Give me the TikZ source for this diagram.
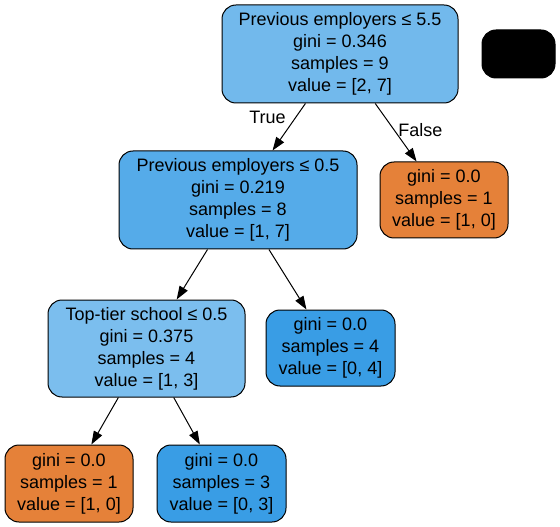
\documentclass[tikz,border=0pt]{standalone}
\usepackage{fontspec}
\setmainfont{Liberation Sans}
\usetikzlibrary{arrows.meta}
\definecolor{gvblue}{RGB}{57,157,229}
\definecolor{gvorange}{RGB}{229,129,57}
\definecolor{rootblue}{RGB}{114,185,236}
\definecolor{midblue}{RGB}{85,171,233}
\definecolor{lightblue}{RGB}{123,190,238}
\tikzset{>={Triangle[length=10pt,width=7pt]}}
\tikzset{
    treenode/.style 2 args={draw, line width=0.75pt, rounded corners=10.5pt, align=center,
        inner sep=0pt, minimum width=#1*0.75pt, minimum height=#2*0.75pt,
        font=\fontsize{13.5}{16.5}\selectfont},
    edgelbl/.style={font=\fontsize{13.5}{16.5}\selectfont, inner sep=3pt},
    branch/.style={->, line width=0.75pt}
}

\begin{document}
\begin{tikzpicture}[x=0.75pt, y=-0.75pt] % decision tree
	\useasboundingbox (0,0) rectangle (560,527);
	% nodes
	\node[treenode={236}{98}, fill=rootblue] (root) at (340,54)
		{Previous employers ≤ 5.5\\gini = 0.346\\samples = 9\\value = [2, 7]};
	\node[treenode={73}{48}, fill=black] (blank) at (518.5,54) {};
	\node[treenode={238}{98}, fill=midblue] (emp) at (238,200)
		{Previous employers ≤ 0.5\\gini = 0.219\\samples = 8\\value = [1, 7]};
	\node[treenode={128}{76}, fill=gvorange] (leafa) at (444,200)
		{gini = 0.0\\samples = 1\\value = [1, 0]};
	\node[treenode={197}{97}, fill=lightblue] (school) at (146.5,348.5)
		{Top-tier school ≤ 0.5\\gini = 0.375\\samples = 4\\value = [1, 3]};
	\node[treenode={129}{76}, fill=gvblue] (leafb) at (330.5,348)
		{gini = 0.0\\samples = 4\\value = [0, 4]};
	\node[treenode={128}{77}, fill=gvorange] (leafc) at (69,483.5)
		{gini = 0.0\\samples = 1\\value = [1, 0]};
	\node[treenode={129}{77}, fill=gvblue] (leafd) at (221.5,483.5)
		{gini = 0.0\\samples = 3\\value = [0, 3]};
	% edges
	\draw[branch] (root) -- node[edgelbl, pos=0.3, anchor=east, xshift=-4pt] (lbltrue) {True} (emp);
	\draw[branch] (root) -- node[edgelbl, pos=0.45, anchor=west] (lblfalse) {False} (leafa);
	\draw[branch] (emp) -- (school);
	\draw[branch] (emp) -- (leafb);
	\draw[branch] (school) -- (leafc);
	\draw[branch] (school) -- (leafd);
\end{tikzpicture}
\end{document}
